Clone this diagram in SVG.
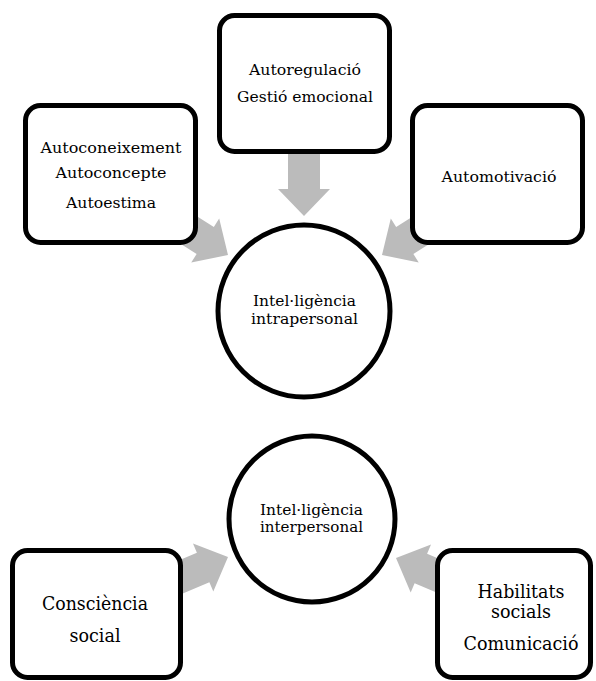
<svg xmlns="http://www.w3.org/2000/svg" xmlns:xlink="http://www.w3.org/1999/xlink" width="596" height="681" viewBox="0 0 596 681">
<style>
.box{fill:#ffffff;stroke:#000000;stroke-width:5}
.arrow{fill:#bbbbbb;stroke:none}
.t{font-family:"DejaVu Serif","Liberation Serif",serif;font-size:15px;fill:#000000;text-anchor:middle}
.tb{font-family:"DejaVu Serif","Liberation Serif",serif;font-size:18px;fill:#000000;text-anchor:middle}
</style>
<defs>
<path id="arr" d="M -70,-16 L -27,-16 L -27,-26 L 0,0 L -27,26 L -27,16 L -70,16 Z"/>
</defs>
<rect width="596" height="681" fill="#ffffff"/>
<g id="connectors" class="arrow">
<use xlink:href="#arr" href="#arr" transform="translate(304,216) rotate(90)"/>
<use xlink:href="#arr" href="#arr" transform="translate(228,255) rotate(32.5)"/>
<use xlink:href="#arr" href="#arr" transform="translate(382,255) rotate(147.5)"/>
<use xlink:href="#arr" href="#arr" transform="translate(228,557) rotate(-23)"/>
<use xlink:href="#arr" href="#arr" transform="translate(396,558) rotate(-157)"/>
</g>
<g id="autoconeixement">
<rect class="box" x="25.5" y="105.5" width="170" height="137" rx="15"/>
<text class="t" x="111" y="153" textLength="141" lengthAdjust="spacingAndGlyphs">Autoconeixement</text>
<text class="t" x="111" y="178" textLength="111" lengthAdjust="spacingAndGlyphs">Autoconcepte</text>
<text class="t" x="111" y="208" textLength="90" lengthAdjust="spacingAndGlyphs">Autoestima</text>
</g>
<g id="autoregulacio">
<rect class="box" x="219.5" y="15.5" width="170" height="136" rx="15"/>
<text class="t" x="305" y="75" textLength="112" lengthAdjust="spacingAndGlyphs">Autoregulació</text>
<text class="t" x="305" y="102" textLength="136" lengthAdjust="spacingAndGlyphs">Gestió emocional</text>
</g>
<g id="automotivacio">
<rect class="box" x="412.5" y="105.5" width="170" height="137" rx="15"/>
<text class="t" x="499" y="182" textLength="115" lengthAdjust="spacingAndGlyphs">Automotivació</text>
</g>
<g id="intrapersonal">
<circle class="box" cx="304" cy="311" r="86"/>
<text class="t" x="304.5" y="306" textLength="103" lengthAdjust="spacingAndGlyphs">Intel·ligència</text>
<text class="t" x="304.5" y="324" textLength="107" lengthAdjust="spacingAndGlyphs">intrapersonal</text>
</g>
<g id="interpersonal">
<circle class="box" cx="312" cy="519" r="83"/>
<text class="t" x="311.5" y="515" textLength="103" lengthAdjust="spacingAndGlyphs">Intel·ligència</text>
<text class="t" x="311.5" y="532" textLength="103" lengthAdjust="spacingAndGlyphs">interpersonal</text>
</g>
<g id="consciencia">
<rect class="box" x="12.5" y="550.5" width="168" height="127" rx="15"/>
<text class="tb" x="95" y="610" textLength="106" lengthAdjust="spacingAndGlyphs">Consciència</text>
<text class="tb" x="95" y="642" textLength="51" lengthAdjust="spacingAndGlyphs">social</text>
</g>
<g id="habilitats">
<rect class="box" x="437.5" y="550.5" width="153" height="127" rx="15"/>
<text class="tb" x="521" y="598" textLength="87" lengthAdjust="spacingAndGlyphs">Habilitats</text>
<text class="tb" x="521" y="618" textLength="60" lengthAdjust="spacingAndGlyphs">socials</text>
<text class="tb" x="521" y="650" textLength="115" lengthAdjust="spacingAndGlyphs">Comunicació</text>
</g>
</svg>
